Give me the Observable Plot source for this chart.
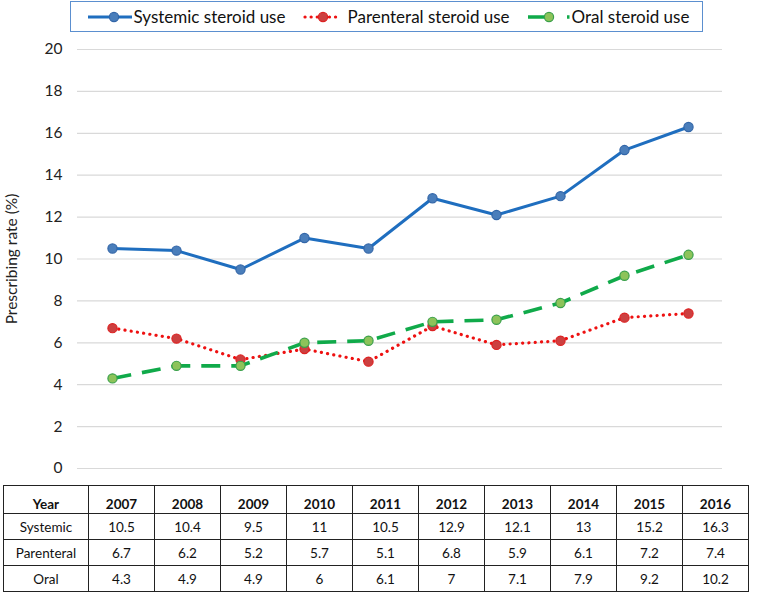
<!DOCTYPE html>
<html>
<head>
<meta charset="utf-8">
<script src="https://cdn.jsdelivr.net/npm/d3@7"></script>
<script src="https://cdn.jsdelivr.net/npm/@observablehq/plot@0.6"></script>
<style>
  html, body { margin: 0; padding: 0; background: #fff; }
  body { width: 758px; height: 595px; position: relative; overflow: hidden; font-family: Lato, "Open Sans", sans-serif; }
  #legend { position: absolute; left: 70px; top: 1px; width: 631px; height: 29px; border: 1.5px solid #5B8FCF; background: #fff; z-index: 2; }
  .item { position: absolute; top: 0; height: 29px; display: flex; align-items: center; font-size: 17px; color: #111; white-space: nowrap; }
  .item svg { display: block; margin-right: 1px; }
  #plot { position: absolute; left: 0; top: 33px; }
  #table { position: absolute; left: 3px; top: 485px; border-collapse: collapse; font-size: 13.5px; color: #111; }
  #table td { border: 1.6px solid #222; text-align: center; padding: 0; height: 25px; }
  #table tr.head td { font-weight: bold; height: 26px; vertical-align: bottom; padding-bottom: 1px; }
</style>
</head>
<body>
<div id="legend"></div>
<div id="plot"></div>
<table id="table"></table>
<script>
const years = ["2007","2008","2009","2010","2011","2012","2013","2014","2015","2016"];
const systemic = [10.5,10.4,9.5,11,10.5,12.9,12.1,13,15.2,16.3];
const parenteral = [6.7,6.2,5.2,5.7,5.1,6.8,5.9,6.1,7.2,7.4];
const oral = [4.3,4.9,4.9,6,6.1,7,7.1,7.9,9.2,10.2];
const seriesNames = ["Systemic steroid use","Parenteral steroid use","Oral steroid use"];
const rowLabels = ["Systemic","Parenteral","Oral"];
const yTicks = [0,2,4,6,8,10,12,14,16,18,20];

const styles = [
  {line:"#1F6EBF", fill:"#4A7EBB", stroke:"#3366A8", width:3, dash:null},
  {line:"#EE1111", fill:"#CC4040", stroke:"#DD2222", width:3.2, dash:"0.1,6.2"},
  {line:"#10AA4A", fill:"#8DC35A", stroke:"#3AA04A", width:3.6, dash:"19,11"}
];
const seriesValues = [systemic, parenteral, oral];

const toRows = (vals) => years.map((y, i) => ({year: y, value: vals[i]}));

const marks = [
  Plot.gridY(yTicks, {stroke: "#d9d9d9", strokeOpacity: 1, strokeWidth: 1.2})
];
seriesValues.forEach((vals, k) => {
  const s = styles[k];
  const data = toRows(vals);
  marks.push(Plot.line(data, {x: "year", y: "value", stroke: s.line, strokeWidth: s.width,
    strokeDasharray: s.dash, strokeLinecap: k === 1 ? "round" : "butt", strokeLinejoin: "round"}));
  marks.push(Plot.dot(data, {x: "year", y: "value", r: 4.6, fill: s.fill, stroke: s.stroke, strokeWidth: 1.2}));
});
marks.push(Plot.axisY(yTicks, {tickSize: 0, tickPadding: 15, fontSize: 15.5, label: "Prescribing rate (%)",
  labelAnchor: "center", labelArrow: "none", labelOffset: 72, color: "#222"}));

const chart = Plot.plot({
  width: 758, height: 445,
  marginLeft: 77, marginRight: 36, marginTop: 16, marginBottom: 10,
  style: {fontFamily: "Lato, 'Open Sans', sans-serif", fontSize: "15.5px", color: "#222", background: "#fff"},
  x: {type: "point", domain: years, padding: 0.5, axis: null},
  y: {domain: [0, 20]},
  marks
});
document.getElementById("plot").appendChild(chart);

// Legend (swatches)
const legend = document.getElementById("legend");
const legendItems = [
  {left: 16.5, w: 45, svg: (s) => `<line x1="0" y1="7" x2="44" y2="7" stroke="${s.line}" stroke-width="${s.width}"/>` +
      `<circle cx="26" cy="7" r="4.6" fill="${s.fill}" stroke="${s.stroke}" stroke-width="1.2"/>`},
  {left: 231.5, w: 44, svg: (s) => `<line x1="2" y1="7" x2="38" y2="7" stroke="${s.line}" stroke-width="${s.width}" stroke-dasharray="0.1,6" stroke-linecap="round"/>` +
      `<circle cx="20" cy="7" r="4.6" fill="${s.fill}" stroke="${s.stroke}" stroke-width="1.2"/>`},
  {left: 456.5, w: 43, svg: (s) => `<line x1="0" y1="7" x2="42" y2="7" stroke="${s.line}" stroke-width="${s.width}" stroke-dasharray="21,18,2.5,10"/>` +
      `<circle cx="21" cy="7" r="4.6" fill="${s.fill}" stroke="${s.stroke}" stroke-width="1.2"/>`}
];
seriesNames.forEach((name, k) => {
  const s = styles[k];
  const it = legendItems[k];
  const item = document.createElement("div");
  item.className = "item";
  item.style.left = it.left + "px";
  item.innerHTML = `<svg width="${it.w}" height="14">${it.svg(s)}</svg><span>${name}</span>`;
  legend.appendChild(item);
});

// Table
const table = document.getElementById("table");
const head = document.createElement("tr");
head.className = "head";
head.innerHTML = `<td style="width:84px">Year</td>` + years.map(y => `<td style="width:65px">${y}</td>`).join("");
table.appendChild(head);
seriesValues.forEach((vals, k) => {
  const tr = document.createElement("tr");
  tr.innerHTML = `<td>${rowLabels[k]}</td>` + vals.map(v => `<td>${v}</td>`).join("");
  table.appendChild(tr);
});
</script>
</body>
</html>
